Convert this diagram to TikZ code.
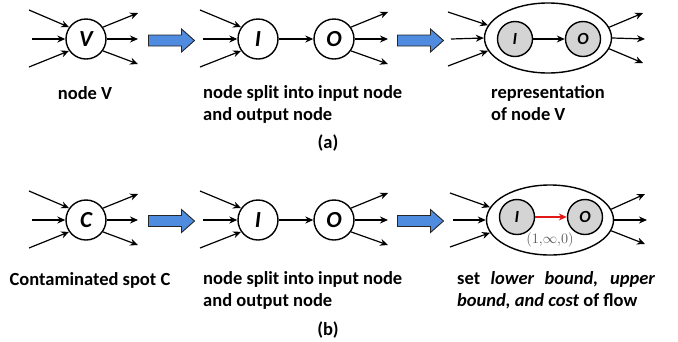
\documentclass[tikz,border=0pt]{standalone}
\usepackage{fontspec}
\setmainfont{Carlito}
\usetikzlibrary{arrows.meta,shapes.geometric}
\definecolor{flowblue}{RGB}{79,139,223}
\definecolor{innergray}{RGB}{212,212,212}
\definecolor{costred}{RGB}{225,25,25}
\definecolor{labelgray}{RGB}{85,85,85}
\tikzset{
  vertex/.style={circle, draw, line width=1.4pt, minimum size=40pt, inner sep=0pt,
    font=\fontsize{23}{23}\selectfont\bfseries\itshape},
  subvertex/.style={circle, draw, line width=1.4pt, fill=innergray, minimum size=35pt,
    inner sep=0pt, font=\fontsize{17}{17}\selectfont\bfseries\itshape},
  hull/.style={ellipse, draw, line width=1.4pt, minimum width=127pt, minimum height=70pt,
    inner sep=0pt},
  edge/.style={line width=1.2pt, -{Stealth[length=8pt,width=7pt]}},
  caption/.style={anchor=base west, align=left, inner sep=0pt,
    font=\fontsize{18.5}{22}\selectfont\bfseries},
  flowstep/.pic={
    \draw[line width=0.9pt, draw=black!85, fill=flowblue, line join=miter]
      (0,-5.5) -- (33,-5.5) -- (33,-11.5) -- (46,0) -- (33,11.5) -- (33,5.5) -- (0,5.5) -- cycle;
  },
}
\begin{document}
\begin{tikzpicture}[x=1pt, y=-1pt]
\useasboundingbox (0,0) rectangle (678,341);

% ---------- row (a) ----------
\def\ry{39}
% single node V
\node[vertex] (V) at (86,\ry) {V};
\coordinate (va1) at (29,\ry-29); \coordinate (va2) at (32,\ry); \coordinate (va3) at (29,\ry+28);
\coordinate (vb1) at (138,\ry-26); \coordinate (vb2) at (138,\ry); \coordinate (vb3) at (138,\ry+25);
\draw[edge] (va1) -- (V.145); \draw[edge] (va2) -- (V.west); \draw[edge] (va3) -- (V.215);
\draw[edge] (V.35) -- (vb1); \draw[edge] (V.east) -- (vb2); \draw[edge] (V.-35) -- (vb3);
\pic at (148.5,\ry+1.5) {flowstep};

% split into I and O
\node[vertex] (Ia) at (258,\ry) {I};
\node[vertex] (Oa) at (334,\ry) {O};
\coordinate (ia1) at (200,\ry-29); \coordinate (ia2) at (203,\ry); \coordinate (ia3) at (200,\ry+28);
\coordinate (oa1) at (388,\ry-27); \coordinate (oa2) at (388,\ry); \coordinate (oa3) at (388,\ry+25);
\draw[edge] (ia1) -- (Ia.145); \draw[edge] (ia2) -- (Ia.west); \draw[edge] (ia3) -- (Ia.215);
\draw[edge] (Ia.east) -- (Oa.west);
\draw[edge] (Oa.35) -- (oa1); \draw[edge] (Oa.east) -- (oa2); \draw[edge] (Oa.-35) -- (oa3);
\pic at (397.5,\ry+1.5) {flowstep};

% I and O inside the node hull
\node[hull] (Ha) at (548,\ry-1) {};
\node[subvertex] (Ra) at (515,\ry) {I};
\node[subvertex] (Sa) at (583,\ry) {O};
\coordinate (ha1) at (448,\ry-27); \coordinate (ha2) at (451,\ry); \coordinate (ha3) at (448,\ry+27);
\coordinate (hb1) at (643,\ry-26); \coordinate (hb2) at (645,\ry); \coordinate (hb3) at (643,\ry+24);
\draw[edge] (ha1) -- (Ha.168); \draw[edge] (ha2) -- (Ha.west); \draw[edge] (ha3) -- (Ha.192);
\draw[edge] (Ra.east) -- (Sa.west);
\draw[edge] (Ha.10) -- (hb1); \draw[edge] (Ha.east) -- (hb2); \draw[edge] (Ha.-10) -- (hb3);

% captions: base anchor sits on the last line of each block
\node[caption, anchor=base] (ta1) at (85,99) {node V};
\node[caption] (ta2) at (203,120) {node split into input node\\and output node};
\node[caption] (ta3) at (491,120) {representation\\of node V};
\node[caption, anchor=base] (tag) at (328,148) {(a)};

% ---------- row (b) ----------
\def\ry{220}
\node[vertex] (C) at (86,\ry) {C};
\coordinate (ca1) at (29,\ry-29); \coordinate (ca2) at (32,\ry); \coordinate (ca3) at (29,\ry+28);
\coordinate (cb1) at (138,\ry-26); \coordinate (cb2) at (138,\ry); \coordinate (cb3) at (138,\ry+25);
\draw[edge] (ca1) -- (C.145); \draw[edge] (ca2) -- (C.west); \draw[edge] (ca3) -- (C.215);
\draw[edge] (C.35) -- (cb1); \draw[edge] (C.east) -- (cb2); \draw[edge] (C.-35) -- (cb3);
\pic at (148.5,\ry+1) {flowstep};

\node[vertex] (Ib) at (258,\ry) {I};
\node[vertex] (Ob) at (334,\ry) {O};
\coordinate (ib1) at (200,\ry-29); \coordinate (ib2) at (203,\ry); \coordinate (ib3) at (200,\ry+28);
\coordinate (ob1) at (388,\ry-27); \coordinate (ob2) at (388,\ry); \coordinate (ob3) at (388,\ry+25);
\draw[edge] (ib1) -- (Ib.145); \draw[edge] (ib2) -- (Ib.west); \draw[edge] (ib3) -- (Ib.215);
\draw[edge] (Ib.east) -- (Ob.west);
\draw[edge] (Ob.35) -- (ob1); \draw[edge] (Ob.east) -- (ob2); \draw[edge] (Ob.-35) -- (ob3);
\pic at (397.5,\ry+1) {flowstep};

\node[hull] (Hb) at (550,\ry) {};
\node[subvertex] (Rb) at (517,\ry-3) {I};
\node[subvertex] (Sb) at (585,\ry-3) {O};
\coordinate (hc1) at (450,\ry-27); \coordinate (hc2) at (453,\ry); \coordinate (hc3) at (450,\ry+27);
\coordinate (hd1) at (645,\ry-26); \coordinate (hd2) at (647,\ry); \coordinate (hd3) at (645,\ry+24);
\draw[edge] (hc1) -- (Hb.168); \draw[edge] (hc2) -- (Hb.west); \draw[edge] (hc3) -- (Hb.192);
\draw[edge, draw=costred, -{Stealth[length=8pt,width=7pt,fill=costred]}] (Rb.east) -- (Sb.west);
\node[text=labelgray, font=\fontsize{14}{14}\selectfont, inner sep=0pt] (cost) at (550,240)
  {$(1{,}\infty{,}0)$};
\draw[edge] (Hb.10) -- (hd1); \draw[edge] (Hb.east) -- (hd2); \draw[edge] (Hb.-10) -- (hd3);

\node[caption, anchor=base] (tb1) at (90,285) {Contaminated spot C};
\node[caption] (tb2) at (203,306) {node split into input node\\and output node};
\node[caption] (tb3) at (457,306)
  {\makebox[198pt][s]{set \textit{lower bound, upper}}\\\textit{bound, and cost} of flow};
\node[caption, anchor=base] (tbg) at (328,335) {(b)};
\end{tikzpicture}
\end{document}
